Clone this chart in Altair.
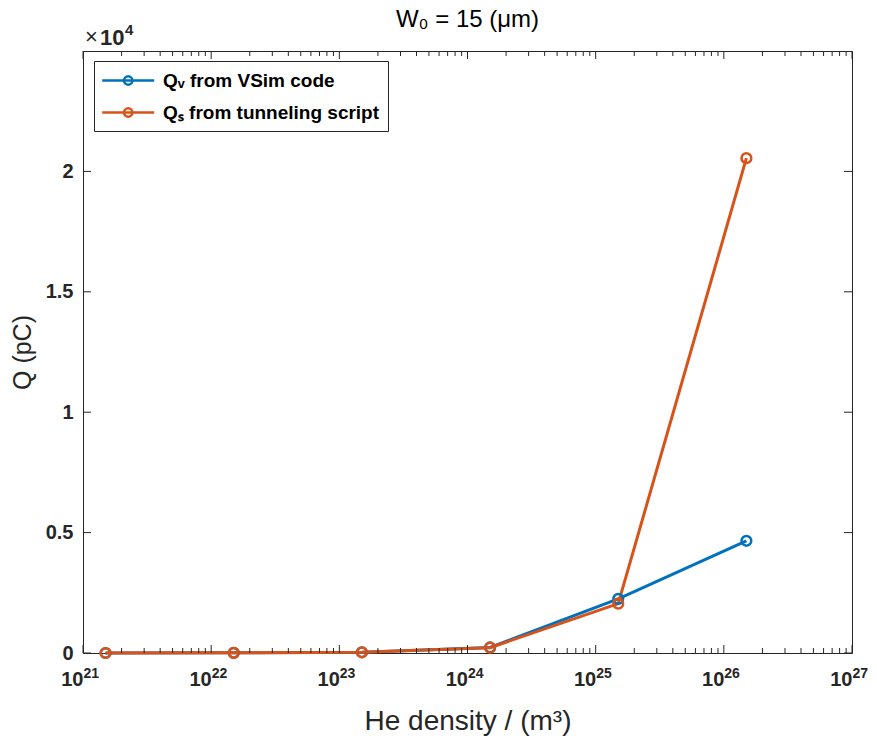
import altair as alt
import pandas as pd

# ---- data ----
density = [1.5e21, 1.5e22, 1.5e23, 1.5e24, 1.5e25, 1.5e26]
q_vsim = [0, 8, 30, 230, 2250, 4660]
q_tunnel = [0, 8, 30, 220, 2050, 20550]
series = ["Qᵥ from VSim code", "Qₛ from tunneling script"]
colors = ["#0072BD", "#D95319"]

x_major = [1e21, 1e22, 1e23, 1e24, 1e25, 1e26, 1e27]
x_base = ["10"] * 7
x_exp = ["21", "22", "23", "24", "25", "26", "27"]
x_minor = [k * 10.0 ** e for e in range(21, 27) for k in range(2, 10)]
y_major = [0, 5000, 10000, 15000, 20000]
y_labels = ["0", "0.5", "1", "1.5", "2"]

W, H = 769, 602
FONT = "Liberation Sans"
AX = "#262626"

df = pd.DataFrame({
    "density": density * 2,
    "Q": q_vsim + q_tunnel,
    "series": [series[0]] * len(density) + [series[1]] * len(density),
})

xscale = alt.Scale(type="log", domain=[1e21, 1e27], nice=False)
yscale = alt.Scale(domain=[0, 25000], nice=False, zero=False)
cscale = alt.Scale(domain=series, range=colors)


def ternary(vals, labels):
    expr = "''"
    for v, l in zip(reversed(vals), reversed(labels)):
        expr = f"(abs(datum.value - {v!r}) < {abs(v) * 1e-6 + 1e-9!r} ? '{l}' : {expr})"
    return expr


x_axis = alt.Axis(values=x_major, labelExpr=ternary(x_major, x_base), title="He density / (m³)",
                  titleFontSize=28, titleFontWeight="normal", titlePadding=18,
                  labelPadding=16, labelFontSize=20, labelAlign="right", labelFlush=False,
                  orient="bottom")
x_axis_exp = alt.Axis(values=x_major, labelExpr=ternary(x_major, x_exp), title=None,
                      labelPadding=13, labelFontSize=14, labelAlign="left", labelFlush=False,
                      orient="bottom", offset=0)
y_axis = alt.Axis(values=y_major, labelExpr=ternary(y_major, y_labels), title="Q (pC)",
                  titleFontSize=25, titleFontWeight="normal", titlePadding=10, labelPadding=10,
                  labelFontSize=20)

base = alt.Chart(df)
lines = base.mark_line(strokeWidth=3).encode(
    x=alt.X("density:Q", scale=xscale, axis=x_axis),
    y=alt.Y("Q:Q", scale=yscale, axis=y_axis),
    color=alt.Color("series:N", scale=cscale,
                    legend=alt.Legend(title=None, orient="none", legendX=11, legendY=10)),
)
points = base.mark_point(shape="circle", filled=False, size=95, strokeWidth=2.5, opacity=1).encode(
    x=alt.X("density:Q", scale=xscale, axis=x_axis_exp),
    y=alt.Y("Q:Q", scale=yscale, axis=y_axis),
    color=alt.Color("series:N", scale=cscale, legend=None),
)

xmaj_df = pd.DataFrame({"t": x_major})
xmin_df = pd.DataFrame({"t": x_minor})
ymaj_df = pd.DataFrame({"t": y_major})


def xticks(d, length, top):
    y0, y1 = (0, length) if top else (H, H - length)
    return alt.Chart(d).mark_rule(color=AX, strokeWidth=1).encode(
        x=alt.X("t:Q", scale=xscale, axis=None), y=alt.value(y0), y2=alt.value(y1))


def yticks(d, length, right):
    x0, x1 = (W, W - length) if right else (0, length)
    return alt.Chart(d).mark_rule(color=AX, strokeWidth=1).encode(
        y=alt.Y("t:Q", scale=yscale, axis=y_axis), x=alt.value(x0), x2=alt.value(x1))


exp_df = pd.DataFrame({"times": ["×"], "ten": ["10"], "four": ["4"]})
exp_base = alt.Chart(exp_df)
exp_times = exp_base.mark_text(align="left", baseline="alphabetic", fontSize=22, font=FONT,
                               color=AX).encode(text="times:N", x=alt.value(2), y=alt.value(-7))
exp_ten = exp_base.mark_text(align="left", baseline="alphabetic", fontSize=22, font=FONT,
                             fontWeight="bold", color=AX).encode(text="ten:N", x=alt.value(17),
                                                                 y=alt.value(-6))
exp_four = exp_base.mark_text(align="left", baseline="alphabetic", fontSize=15, font=FONT,
                              fontWeight="bold", color=AX).encode(text="four:N", x=alt.value(42),
                                                                  y=alt.value(-16))

chart = alt.layer(
    lines, points,
    xticks(xmaj_df, 8, False), xticks(xmaj_df, 8, True),
    xticks(xmin_df, 5, False), xticks(xmin_df, 5, True),
    yticks(ymaj_df, 8, False), yticks(ymaj_df, 8, True),
    exp_times, exp_ten, exp_four,
).resolve_axis(x="independent").properties(
    width=W, height=H,
    title=alt.TitleParams("W₀ = 15 (μm)", fontSize=24, fontWeight="normal", font=FONT,
                          color="black", offset=-9),
    autosize=alt.AutoSizeParams(type="none"),
    padding={"left": 75, "top": 43, "right": 17, "bottom": 83},
).configure_view(
    stroke=AX, strokeWidth=1,
).configure_axis(
    domain=False, ticks=False, grid=False,
    labelFont=FONT, labelFontWeight="bold", labelColor=AX,
    titleFont=FONT, titleColor=AX,
).configure_legend(
    labelFont=FONT, labelFontSize=19, labelFontWeight="bold", labelColor="black", labelLimit=0,
    symbolType="M-1.13,0H4.07M1.05,0A0.42,0.42,0,1,1,1.89,0A0.42,0.42,0,1,1,1.05,0",
    symbolSize=400, symbolStrokeWidth=2.5, symbolFillColor="white",
    strokeColor=AX, fillColor="white", padding=8, labelOffset=38, rowPadding=10,
    cornerRadius=0,
)

chart.save("out.html", embed_options={"renderer": "svg", "actions": False})
